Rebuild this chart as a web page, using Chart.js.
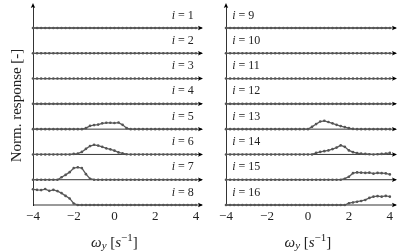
<!DOCTYPE html>
<html>
<head>
<meta charset="utf-8">
<script src="https://cdn.jsdelivr.net/npm/chart.js@4.4.1/dist/chart.umd.min.js"></script>
<style>
    html, body { margin: 0; padding: 0; background: #fff; }
    .panel { position: absolute; top: 0; width: 206px; height: 252px; }
</style>
</head>
<body>
<div class="panel" style="left:0"><canvas id="left" width="206" height="252"></canvas></div>
<div class="panel" style="left:206px"><canvas id="right" width="206" height="252"></canvas></div>
<script>
// frequency grid (s^-1)
const omega = [-4.0, -3.8, -3.6, -3.4, -3.2, -3.0, -2.8, -2.6, -2.4, -2.2,
               -2.0, -1.8, -1.6, -1.4, -1.2, -1.0, -0.8, -0.6, -0.4, -0.2,
                0.0,  0.2,  0.4,  0.6,  0.8,  1.0,  1.2,  1.4,  1.6,  1.8,
                2.0,  2.2,  2.4,  2.6,  2.8,  3.0,  3.2,  3.4,  3.6,  3.8, 4.0];
const xTicks = [-4, -2, 0, 2, 4];
const leftRows = [1, 2, 3, 4, 5, 6, 7, 8];
const rightRows = [9, 10, 11, 12, 13, 14, 15, 16];

// normalised responses, one per row
const resp01 = [0,0,0,0,0,0,0,0,0,0, 0,0,0,0,0,0,0,0,0,0, 0,0,0,0,0,0,0,0,0,0, 0,0,0,0,0,0,0,0,0,0, 0];
const resp02 = [0,0,0,0,0,0,0,0,0,0, 0,0,0,0,0,0,0,0,0,0, 0,0,0,0,0,0,0,0,0,0, 0,0,0,0,0,0,0,0,0,0, 0];
const resp03 = [0,0,0,0,0,0,0,0,0,0, 0,0,0,0,0,0,0,0,0,0, 0,0,0,0,0,0,0,0,0,0, 0,0,0,0,0,0,0,0,0,0, 0];
const resp04 = [0,0,0,0,0,0,0,0,0,0, 0,0,0,0,0,0,0,0,0,0, 0,0,0,0,0,0,0,0,0,0, 0,0,0,0,0,0,0,0,0,0, 0];
const resp05 = [0,0,0,0,0,0,0,0,0,0, 0,0,0,0.04,0.13,0.16,0.18,0.23,0.25,0.25, 0.24,0.26,0.17,0.04,0,0,0,0,0,0, 0,0,0,0,0,0,0,0,0,0, 0];
const resp06 = [0,0,0,0,0,0,0,0,0,0, 0.02,0.03,0.10,0.22,0.33,0.38,0.35,0.30,0.24,0.20, 0.15,0.08,0.04,0.01,0,0,0,0,0,0, 0,0,0,0,0,0,0,0,0,0, 0];
const resp07 = [0,0,0,0,0,0,0,0.10,0.19,0.30, 0.46,0.49,0.46,0.22,0.04,0,0,0,0,0, 0,0,0,0,0,0,0,0,0,0, 0,0,0,0,0,0,0,0,0,0, 0];
const resp08 = [0.62,0.60,0.59,0.63,0.56,0.60,0.55,0.47,0.36,0.26, 0.06,0,0,0,0,0,0,0,0,0, 0,0,0,0,0,0,0,0,0,0, 0,0,0,0,0,0,0,0,0,0, 0];
const resp09 = [0,0,0,0,0,0,0,0,0,0, 0,0,0,0,0,0,0,0,0,0, 0,0,0,0,0,0,0,0,0,0, 0,0,0,0,0,0,0,0,0,0, 0];
const resp10 = [0,0,0,0,0,0,0,0,0,0, 0,0,0,0,0,0,0,0,0,0, 0,0,0,0,0,0,0,0,0,0, 0,0,0,0,0,0,0,0,0,0, 0];
const resp11 = [0,0,0,0,0,0,0,0,0,0, 0,0,0,0,0,0,0,0,0,0, 0,0,0,0,0,0,0,0,0,0, 0,0,0,0,0,0,0,0,0,0, 0];
const resp12 = [0,0,0,0,0,0,0,0,0,0, 0,0,0,0,0,0,0,0,0,0, 0,0,0,0,0,0,0,0,0,0, 0,0,0,0,0,0,0,0,0,0, 0];
const resp13 = [0,0,0,0,0,0,0,0,0,0, 0,0,0,0,0,0,0,0,0,0, 0,0.09,0.20,0.30,0.33,0.28,0.23,0.17,0.12,0.08, 0.04,0.01,0,0,0,0,0,0,0,0, 0];
const resp14 = [0,0,0,0,0,0,0,0,0,0, 0,0,0,0,0,0,0,0,0,0, 0,0,0.06,0.10,0.13,0.16,0.21,0.27,0.36,0.30, 0.16,0.09,0.05,0.03,0.02,0.01,0,0.01,0.02,0.03, 0.06];
const resp15 = [0,0,0,0,0,0,0,0,0,0, 0,0,0,0,0,0,0,0,0,0, 0,0,0,0,0,0,0,0,0,0.04, 0.12,0.26,0.29,0.28,0.27,0.28,0.24,0.27,0.26,0.25, 0.21];
const resp16 = [0,0,0,0,0,0,0,0,0,0, 0,0,0,0,0,0,0,0,0,0, 0,0,0,0,0,0,0,0,0,0, 0.07,0.10,0.13,0.16,0.20,0.28,0.33,0.35,0.33,0.36, 0.33];

const leftResp = [resp01, resp02, resp03, resp04, resp05, resp06, resp07, resp08];
const rightResp = [resp09, resp10, resp11, resp12, resp13, resp14, resp15, resp16];

const xEnd = 4.3;   // baselines run a bit past the last tick, ending in an arrow
const yTop = 7.87;
const serif = "'Liberation Serif', 'DejaVu Serif', serif";

const decor = {
    id: 'decor',
    afterDatasetsDraw(chart, args, opts) {
        const ctx = chart.ctx;
        const xs = chart.scales.x, ys = chart.scales.y, area = chart.chartArea;
        ctx.save();
        ctx.fillStyle = '#000';

        opts.rows.forEach((row, r) => {
            const off = opts.rows.length - 1 - r;
            // arrow head at end of baseline
            const tx = xs.getPixelForValue(xEnd) + 1, ty = ys.getPixelForValue(off);
            ctx.beginPath();
            ctx.moveTo(tx, ty);
            ctx.lineTo(tx - 5, ty - 2.2);
            ctx.lineTo(tx - 4, ty);
            ctx.lineTo(tx - 5, ty + 2.2);
            ctx.closePath();
            ctx.fill();

            // row label "i = n"
            const ly = ys.getPixelForValue(off + 0.5);
            const lx = xs.getPixelForValue(opts.labelAt);
            const it = 'italic 12px ' + serif, rm = '12px ' + serif;
            ctx.font = it;
            const wi = ctx.measureText('i').width;
            ctx.font = rm;
            const rest = ' = ' + row;
            const wr = ctx.measureText(rest).width;
            const x0 = opts.align === 'right' ? lx - wi - wr : lx;
            ctx.textBaseline = 'middle';
            ctx.textAlign = 'left';
            ctx.fillStyle = '#222';
            ctx.font = it;
            ctx.fillText('i', x0, ly);
            ctx.font = rm;
            ctx.fillText(rest, x0 + wi, ly);
            ctx.fillStyle = '#000';
        });

        // y axis arrow
        const ax = area.left, ay = area.top - 3;
        ctx.beginPath();
        ctx.moveTo(ax, ay);
        ctx.lineTo(ax - 2.2, ay + 5);
        ctx.lineTo(ax, ay + 4);
        ctx.lineTo(ax + 2.2, ay + 5);
        ctx.closePath();
        ctx.fill();

        // x axis title: omega_y [s^-1]
        const parts = [
            { t: 'ω', f: 'italic 15px ' + serif, dy: 0 },
            { t: 'y', f: 'italic 11px ' + serif, dy: 2 },
            { t: ' [', f: '15px ' + serif, dy: 0 },
            { t: 's', f: 'italic 15px ' + serif, dy: 0 },
            { t: '−1', f: '11px ' + serif, dy: -6 },
            { t: ']', f: '15px ' + serif, dy: 0 }
        ];
        let total = 0;
        parts.forEach(p => { ctx.font = p.f; p.w = ctx.measureText(p.t).width; total += p.w; });
        let px = xs.getPixelForValue(0) - total / 2;
        const base = 247;
        ctx.textBaseline = 'alphabetic';
        ctx.fillStyle = '#222';
        parts.forEach(p => {
            ctx.font = p.f;
            ctx.fillText(p.t, px, base + p.dy);
            px += p.w;
        });
        ctx.restore();
    }
};

function makePanel(id, rows, resps, yWidth, rightPad, labelAt, align, title) {
    const datasets = [];
    rows.forEach((row, r) => {
        const off = rows.length - 1 - r;
        datasets.push({
            data: omega.map((w, j) => ({ x: w, y: off + resps[r][j] })),
            borderColor: '#5a5a5a',
            borderWidth: 1.3,
            pointRadius: 1.3,
            pointBackgroundColor: '#555',
            pointBorderWidth: 0,
            tension: 0,
            order: 0,
            clip: false
        });
        datasets.push({
            data: [{ x: omega[0], y: off }, { x: xEnd, y: off }],
            borderColor: '#000',
            borderWidth: 0.8,
            pointRadius: 0,
            order: 1,
            clip: false
        });
    });

    return new Chart(document.getElementById(id), {
        type: 'line',
        data: { datasets },
        plugins: [decor],
        options: {
            responsive: false,
            animation: false,
            events: [],
            layout: { padding: { left: 0, right: rightPad, top: 6, bottom: 0 } },
            plugins: {
                legend: { display: false },
                tooltip: { enabled: false },
                decor: { rows, labelAt, align }
            },
            scales: {
                x: {
                    type: 'linear',
                    min: omega[0],
                    max: xEnd,
                    grid: { display: false },
                    border: { display: false },
                    afterBuildTicks: s => { s.ticks = xTicks.map(v => ({ value: v })); },
                    afterFit: s => { s.height = 47; s.paddingLeft = 0; s.paddingRight = 0; },
                    ticks: {
                        autoSkip: false,
                        maxRotation: 0,
                        padding: -4,
                        color: '#222',
                        font: { family: serif, size: 13 },
                        callback: v => String(v).replace('-', '−')
                    }
                },
                y: {
                    type: 'linear',
                    min: 0,
                    max: yTop,
                    grid: { display: false },
                    border: { display: true, color: '#000', width: 0.8 },
                    ticks: { display: false },
                    afterFit: s => { s.width = yWidth; s.paddingTop = 0; s.paddingBottom = 0; },
                    title: {
                        display: !!title,
                        text: title || '',
                        color: '#222',
                        font: { family: serif, size: 15 },
                        padding: { top: 8, bottom: 0 }
                    }
                }
            }
        }
    });
}

makePanel('left', leftRows, leftResp, 33, 3, 3.9, 'right', 'Norm. response [-]');
makePanel('right', rightRows, rightResp, 20, 16, -3.7, 'left', null);
</script>
</body>
</html>
